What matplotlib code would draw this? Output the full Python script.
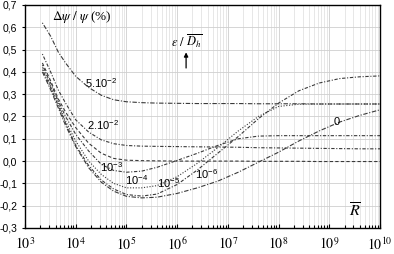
import matplotlib
matplotlib.use("Agg")
import matplotlib.pyplot as plt

plt.rcParams['font.family'] = ['Liberation Sans', 'DejaVu Sans']
plt.rcParams['mathtext.fontset'] = 'custom'
plt.rcParams['mathtext.rm'] = 'Liberation Sans'
plt.rcParams['mathtext.it'] = 'Liberation Sans:italic'

# Reynolds number grid (R bar) shared by all curves
R = [2.2e3, 3.2e3, 4.5e3, 6.3e3, 1e4, 1.8e4, 3.2e4, 5.6e4, 1e5, 2e5, 4e5,
     1e6, 2.5e6, 6.3e6, 1.6e7, 4e7, 1e8, 2.5e8, 6.3e8, 1.6e9, 4e9, 1e10]

# delta psi / psi (%) for each relative roughness
eps_5e2 = [0.62, 0.56, 0.49, 0.44, 0.38, 0.33, 0.295, 0.275, 0.266, 0.262, 0.260,
           0.259, 0.258, 0.258, 0.258, 0.257, 0.257, 0.257, 0.256, 0.256, 0.256, 0.256]
eps_2e2 = [0.48, 0.40, 0.32, 0.26, 0.185, 0.13, 0.095, 0.078, 0.070, 0.067, 0.066,
           0.065, 0.064, 0.063, 0.062, 0.060, 0.059, 0.058, 0.057, 0.056, 0.055, 0.055]
eps_1e3 = [0.44, 0.36, 0.28, 0.22, 0.15, 0.08, 0.035, 0.012, 0.004, 0.002, 0.001,
           0.0, 0.0, 0.0, 0.0, -0.001, -0.001, -0.001, -0.002, -0.002, -0.002, -0.002]
eps_1e4 = [0.43, 0.35, 0.27, 0.20, 0.12, 0.045, -0.015, -0.042, -0.05, -0.045, -0.028,
           0.003, 0.035, 0.07, 0.10, 0.112, 0.114, 0.114, 0.114, 0.114, 0.114, 0.114]
eps_1e5 = [0.42, 0.34, 0.26, 0.18, 0.09, 0.0, -0.06, -0.10, -0.12, -0.12, -0.11,
           -0.07, -0.01, 0.06, 0.135, 0.20, 0.245, 0.255, 0.256, 0.256, 0.256, 0.256]
eps_1e6 = [0.41, 0.33, 0.25, 0.17, 0.07, -0.02, -0.085, -0.125, -0.15, -0.157, -0.148,
           -0.105, -0.04, 0.035, 0.11, 0.19, 0.26, 0.315, 0.35, 0.37, 0.378, 0.382]
eps_0 = [0.40, 0.32, 0.24, 0.16, 0.065, -0.03, -0.095, -0.135, -0.158, -0.165, -0.162,
         -0.145, -0.12, -0.09, -0.05, -0.005, 0.04, 0.09, 0.135, 0.175, 0.205, 0.23]

series = [eps_5e2, eps_2e2, eps_1e3, eps_1e4, eps_1e5, eps_1e6, eps_0]
styles = [(0, (1, 1.5, 4, 1.5)), (0, (1, 1.5, 3, 1.5)), (0, (3, 2)), (0, (1, 1.5, 3, 1.5)),
          (0, (1, 1.5)), (0, (1, 1.5, 3, 1.5)), (0, (4, 1.5, 1, 1.5))]

yticks = [-0.3, -0.2, -0.1, 0.0, 0.1, 0.2, 0.3, 0.4, 0.5, 0.6, 0.7]
ytick_labels = ['-0,3', '-0,2', '-0,1', '0,0', '0,1', '0,2', '0,3', '0,4', '0,5', '0,6', '0,7']
xticks = [1e3, 1e4, 1e5, 1e6, 1e7, 1e8, 1e9, 1e10]
xtick_labels = [r'$10^{3}$', r'$10^{4}$', r'$10^{5}$', r'$10^{6}$',
                r'$10^{7}$', r'$10^{8}$', r'$10^{9}$', r'$10^{10}$']

fig = plt.figure(figsize=(3.94, 2.54), dpi=100)
ax = fig.add_axes([0.0635, 0.1024, 0.901, 0.878])

for vals, ls in zip(series, styles):
    ax.plot(R, vals, color='#3a3a3a', lw=0.8, ls=ls)

ax.set_xscale('log')
ax.set_xlim(1e3, 1e10)
ax.set_ylim(-0.3, 0.7)
ax.set_yticks(yticks)
ax.set_yticklabels(ytick_labels, fontsize=7.5)
ax.set_xticks(xticks)
ax.set_xticklabels(xtick_labels, fontsize=10, math_fontfamily='stix')
ax.tick_params(axis='x', which='both', direction='in', length=3, width=0.8, pad=6)
ax.tick_params(axis='x', which='minor', length=2)
ax.tick_params(axis='y', direction='out', length=2, width=0.8)
ax.grid(True, which='major', axis='both', color='#cfcfcf', lw=0.6)
ax.grid(True, which='minor', axis='x', color='#dddddd', lw=0.5)
ax.set_axisbelow(True)
for s in ax.spines.values():
    s.set_linewidth(1.0)

# curve labels
ax.text(1.5e4, 0.35, r'5.10$^{-2}$', fontsize=8, va='center')
ax.text(1.7e4, 0.16, r'2.10$^{-2}$', fontsize=8, va='center')
ax.text(3.0e4, -0.027, r'10$^{-3}$', fontsize=8, va='center')
ax.text(9.5e4, -0.085, r'10$^{-4}$', fontsize=8, va='center')
ax.text(4.0e5, -0.10, r'10$^{-5}$', fontsize=8, va='center')
ax.text(2.2e6, -0.06, r'10$^{-6}$', fontsize=8, va='center')
ax.text(1.2e9, 0.175, '0', fontsize=8, va='center')

ax.text(3.4e3, 0.645, r'$\Delta\psi\ /\ \psi$ (%)', fontsize=9.5, va='center',
        family='Liberation Serif', math_fontfamily='stix')
ax.text(1.5e6, 0.535, r'$\varepsilon\ /\ \overline{D_h}$', fontsize=9, ha='center',
        va='center', math_fontfamily='stix')
ax.annotate('', xy=(1.5e6, 0.50), xytext=(1.5e6, 0.405),
            arrowprops=dict(arrowstyle='-|>', color='black', lw=0.9, mutation_scale=6))
ax.text(3.2e9, -0.225, r'$\overline{R}$', fontsize=11.5, ha='center', va='center',
        math_fontfamily='stix')

fig.savefig('out.png', dpi=100)
